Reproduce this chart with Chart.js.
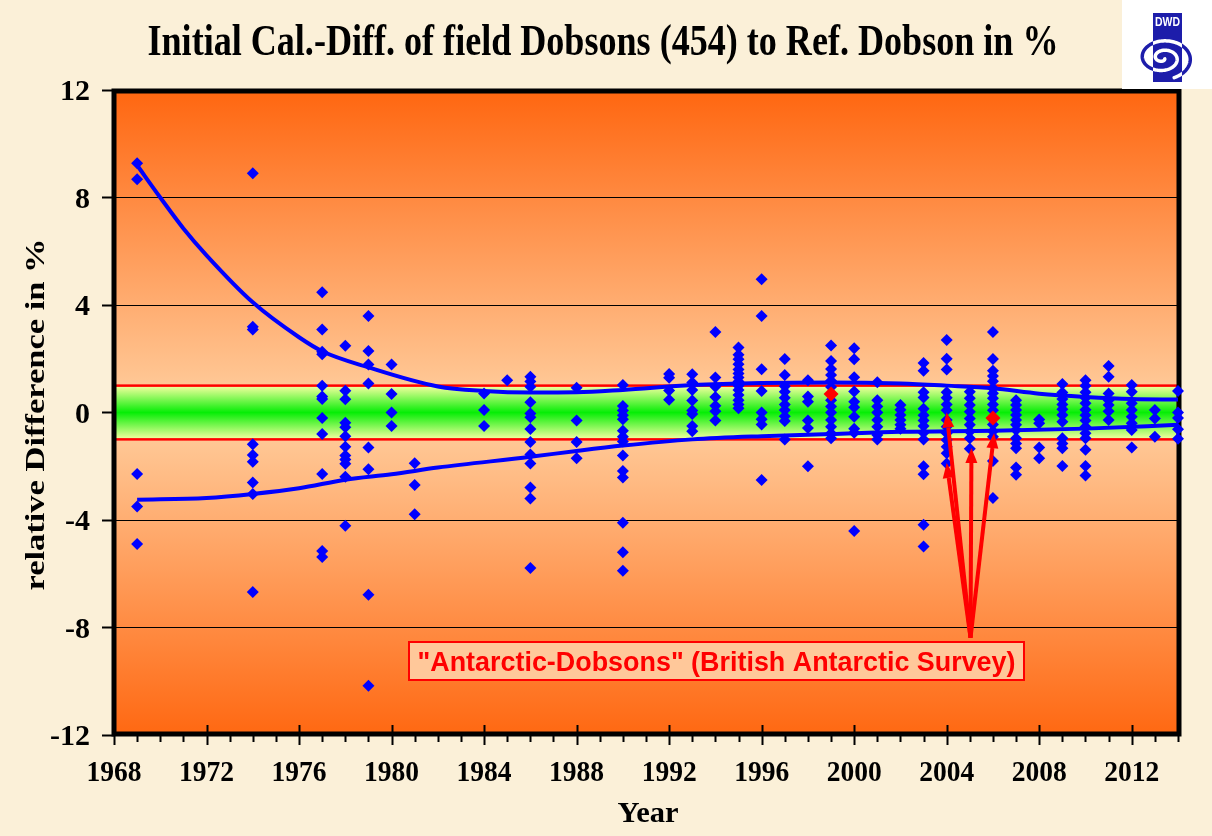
<!DOCTYPE html>
<html>
<head>
<meta charset="utf-8">
<script src="https://cdn.jsdelivr.net/npm/chart.js@4/dist/chart.umd.min.js"></script>
<style>
  html, body { margin: 0; padding: 0; background: #fbf0d8; }
  canvas { display: block; }
</style>
</head>
<body>
<canvas id="chart" width="1212" height="836"></canvas>
<script>
// ---- Initial calibration differences, field Dobsons vs. reference Dobson (%) ----
const fieldYears = [1969, 1974, 1977, 1978, 1979, 1980, 1981, 1984, 1985, 1986, 1988, 1990,
  1992, 1993, 1994, 1995, 1996, 1997, 1998, 1999, 2000, 2001, 2002, 2003, 2004, 2005,
  2006, 2007, 2008, 2009, 2010, 2011, 2012, 2013, 2014];
const fieldDiffs = [
  [9.27, 8.68, -2.29, -3.5, -4.89],
  [8.9, 3.19, 3.09, -1.18, -1.58, -1.83, -2.6, -3.03, -6.68],
  [4.47, 3.09, 2.26, 2.17, 1.0, 0.6, 0.5, -0.2, -0.8, -2.29, -5.15, -5.38],
  [2.48, 0.81, 0.49, -0.38, -0.55, -0.88, -1.27, -1.6, -1.75, -1.91, -2.39, -4.21],
  [3.59, 2.29, 1.79, 1.08, -1.3, -2.11, -6.78, -10.17],
  [1.79, 0.69, 0.0, -0.5],
  [-1.89, -2.7, -3.79],
  [0.71, 0.09, -0.5],
  [1.2],
  [1.33, 1.15, 0.96, 0.38, -0.04, -0.18, -0.61, -1.1, -1.56, -1.9, -2.79, -3.2, -5.79],
  [0.92, -0.3, -1.1, -1.7],
  [1.02, 0.24, 0.07, -0.1, -0.25, -0.68, -0.9, -1.08, -1.6, -2.18, -2.42, -4.1, -5.2, -5.89],
  [1.43, 1.29, 0.82, 0.47],
  [1.42, 1.12, 0.84, 0.45, 0.07, -0.06, -0.5, -0.7],
  [3.0, 1.3, 0.96, 0.58, 0.25, 0.05, -0.3],
  [2.42, 2.15, 1.98, 1.8, 1.6, 1.45, 1.3, 1.15, 1.0, 0.84, 0.65, 0.46, 0.3, 0.16],
  [4.96, 3.59, 1.61, 0.8, 0.0, -0.25, -0.45, -2.51],
  [1.99, 1.4, 0.98, 0.77, 0.55, 0.3, 0.09, -0.14, -0.32, -1.0],
  [1.2, 0.6, 0.4, -0.3, -0.58, -2.0],
  [2.49, 1.92, 1.62, 1.4, 1.18, 0.95, 0.46, 0.22, 0.0, -0.28, -0.53, -0.77, -0.96],
  [2.39, 1.98, 1.31, 0.78, 0.4, 0.2, -0.16, -0.6, -0.75, -4.41],
  [1.13, 0.46, 0.22, 0.0, -0.28, -0.53, -0.84, -1.0],
  [0.28, 0.1, -0.09, -0.28, -0.46, -0.6],
  [1.84, 1.55, 0.75, 0.56, 0.14, -0.1, -0.3, -0.5, -0.75, -1.0, -2.0, -2.3, -4.18, -4.99],
  [2.7, 2.0, 1.6, 0.75, 0.55, 0.3, 0.08, -0.28, -0.53, -0.77, -1.02, -1.27, -1.52, -1.9],
  [0.77, 0.53, 0.28, 0.03, -0.22, -0.46, -0.71, -0.96, -1.35],
  [3.0, 1.99, 1.55, 1.36, 1.16, 0.9, 0.72, 0.53, 0.3, 0.08, -0.45, -0.7, -0.9, -1.8, -3.18],
  [0.46, 0.28, 0.09, -0.09, -0.28, -0.46, -0.65, -0.96, -1.15, -1.33, -2.05, -2.32],
  [-0.26, -0.4, -1.3, -1.7],
  [1.06, 0.74, 0.5, 0.3, 0.12, -0.09, -0.34, -0.96, -1.15, -1.33, -1.99],
  [1.2, 1.0, 0.75, 0.55, 0.34, 0.1, -0.1, -0.3, -0.53, -0.77, -0.96, -1.39, -1.99, -2.34],
  [1.73, 1.33, 0.71, 0.46, 0.28, 0.05, -0.28],
  [1.02, 0.77, 0.34, 0.09, -0.16, -0.4, -0.65, -1.3],
  [0.09, -0.22, -0.9],
  [0.8, 0.0, -0.2, -0.62, -0.98]
];

// British Antarctic Survey instruments (highlighted)
const basYears = [1999, 2006];
const basDiffs = [0.69, -0.2];

// Upper and lower envelope curves
const upperYears = [1969, 1970, 1971, 1972, 1974, 1976, 1977, 1979, 1982, 1984, 1986, 1988, 1990,
  1993, 1996, 1999, 2002, 2004, 2006, 2008, 2010, 2012, 2014];
const upperDiffs = [9.2, 8.0, 6.85, 5.85, 4.1, 2.8, 2.28, 1.68, 0.97, 0.8, 0.74, 0.75, 0.84,
  1.02, 1.1, 1.12, 1.08, 1.0, 0.9, 0.7, 0.58, 0.5, 0.48];
const lowerYears = [1969, 1972, 1974, 1976, 1978, 1980, 1982, 1986, 1988, 1990, 1993,
  1996, 1999, 2002, 2006, 2010, 2014];
const lowerDiffs = [-3.25, -3.18, -3.03, -2.82, -2.5, -2.3, -2.05, -1.65, -1.43, -1.23, -1.0,
  -0.88, -0.8, -0.72, -0.68, -0.6, -0.46];

// Tolerance band and axis ranges
const toleranceBand = [-1, 1];
const xRange = [1968, 2014];
const yRange = [-12, 12];
const yearStep = 4;
const diffStep = 4;

// Arrows pointing at the Antarctic instruments: common base and the four tips
const arrowBase = [2005.03, -8.38];
const arrowTipYears = [2004, 2004, 2005.07, 2006.05];
const arrowTipDiffs = [0, -1.88, -1.32, -0.77];

const titleText = 'Initial Cal.-Diff. of field Dobsons (454) to Ref. Dobson in %';
const yTitleText = 'relative Difference in %';
const xTitleText = 'Year';
const noteText = '"Antarctic-Dobsons" (British Antarctic Survey)';

// ---- build point lists ----
const fieldPoints = [];
fieldYears.forEach((yr, i) => fieldDiffs[i].forEach(v => fieldPoints.push({ x: yr, y: v })));
const basPoints = basYears.map((yr, i) => ({ x: yr, y: basDiffs[i] }));
const upperPoints = upperYears.map((yr, i) => ({ x: yr, y: upperDiffs[i] }));
const lowerPoints = lowerYears.map((yr, i) => ({ x: yr, y: lowerDiffs[i] }));

const SERIF = '"Liberation Serif", "Times New Roman", serif';
const SANS = '"Liberation Sans", Arial, sans-serif';
const BLUE = '#0000ff';
const RED = '#ff0000';

// draw text squeezed/stretched horizontally to a given width
function fitText(ctx, text, x, y, font, width, align) {
  ctx.save();
  ctx.font = font;
  const w = ctx.measureText(text).width;
  const sx = width ? width / w : 1;
  ctx.translate(x, y);
  ctx.scale(sx, 1);
  ctx.textAlign = align || 'center';
  ctx.fillText(text, 0, 0);
  ctx.restore();
}

const backgroundPlugin = {
  id: 'backgroundPlugin',
  beforeDraw(chart) {
    const { ctx, chartArea: a } = chart;
    ctx.save();
    ctx.fillStyle = '#fbf0d8';
    ctx.fillRect(0, 0, chart.width, chart.height);
    const g = ctx.createLinearGradient(0, a.top, 0, a.bottom);
    g.addColorStop(0, '#ff6610');
    g.addColorStop(0.46, '#ffc896');
    g.addColorStop(0.54, '#ffc896');
    g.addColorStop(1, '#ff6812');
    ctx.fillStyle = g;
    ctx.fillRect(a.left, a.top, a.right - a.left, a.bottom - a.top);
    ctx.restore();
  }
};

const bandPlugin = {
  id: 'bandPlugin',
  beforeDatasetsDraw(chart) {
    const { ctx, chartArea: a, scales: { x, y } } = chart;
    const yTop = y.getPixelForValue(toleranceBand[1]);
    const yBot = y.getPixelForValue(toleranceBand[0]);
    ctx.save();
    const g = ctx.createLinearGradient(0, yTop, 0, yBot);
    g.addColorStop(0, '#f8ffa2');
    g.addColorStop(0.5, '#06ee06');
    g.addColorStop(1, '#f8ffa2');
    ctx.fillStyle = g;
    ctx.fillRect(a.left, yTop, a.right - a.left, yBot - yTop);
    ctx.strokeStyle = RED;
    ctx.lineWidth = 2.5;
    ctx.strokeRect(a.left, yTop, a.right - a.left, yBot - yTop);

    // plot frame
    ctx.strokeStyle = '#000';
    ctx.lineWidth = 5;
    ctx.strokeRect(a.left, a.top + 1, a.right - a.left + 1, a.bottom - a.top - 2);

    // year ticks: minor every year, major every 4 years crossing the axis
    ctx.lineWidth = 2;
    ctx.beginPath();
    for (let yr = xRange[0]; yr <= xRange[1]; yr++) {
      const px = Math.round(x.getPixelForValue(yr)) + 0.5;
      if ((yr - xRange[0]) % yearStep === 0) {
        ctx.moveTo(px, a.bottom - 10);
        ctx.lineTo(px, a.bottom + 10);
      } else {
        ctx.moveTo(px, a.bottom);
        ctx.lineTo(px, a.bottom + 7);
      }
    }
    ctx.stroke();
    ctx.restore();
  }
};

const arrowPlugin = {
  id: 'arrowPlugin',
  afterDatasetsDraw(chart) {
    const { ctx, scales: { x, y } } = chart;
    const bx = x.getPixelForValue(arrowBase[0]);
    const by = y.getPixelForValue(arrowBase[1]);
    ctx.save();
    ctx.strokeStyle = RED;
    ctx.fillStyle = RED;
    ctx.lineWidth = 4;
    ctx.lineCap = 'butt';
    arrowTipYears.forEach((yr, i) => {
      const tx = x.getPixelForValue(yr);
      const ty = y.getPixelForValue(arrowTipDiffs[i]);
      const ang = Math.atan2(ty - by, tx - bx);
      const headLen = 15, headHalf = 6;
      const hx = tx - Math.cos(ang) * headLen;
      const hy = ty - Math.sin(ang) * headLen;
      ctx.beginPath();
      ctx.moveTo(bx, by);
      ctx.lineTo(hx, hy);
      ctx.stroke();
      ctx.beginPath();
      ctx.moveTo(tx, ty);
      ctx.lineTo(hx + Math.sin(ang) * headHalf, hy - Math.cos(ang) * headHalf);
      ctx.lineTo(hx - Math.sin(ang) * headHalf, hy + Math.cos(ang) * headHalf);
      ctx.closePath();
      ctx.fill();
    });

    // label box under the arrows
    const box = { x: 409, y: 642, w: 615, h: 38 };
    ctx.fillStyle = '#ffc89a';
    ctx.fillRect(box.x, box.y, box.w, box.h);
    ctx.strokeStyle = RED;
    ctx.lineWidth = 2;
    ctx.strokeRect(box.x, box.y, box.w, box.h);
    ctx.fillStyle = RED;
    fitText(ctx, noteText, box.x + box.w / 2, box.y + 29, 'bold 28px ' + SANS, 598);
    ctx.restore();
  }
};

function drawLogo(ctx) {
  ctx.save();
  ctx.fillStyle = '#ffffff';
  ctx.fillRect(1122, 0, 90, 89);
  const bx = 1153, by = 13, bw = 29, bh = 69;
  const logoBlue = '#1d1daa';
  ctx.fillStyle = logoBlue;
  ctx.fillRect(bx, by, bw, bh);
  ctx.fillStyle = '#ffffff';
  fitText(ctx, 'DWD', bx + bw / 2, by + 13, 'bold 12px ' + SANS, 25);
  // swirl
  const cx = 1163, cy = 58;
  const path = new Path2D();
  const turns = 4.2 * Math.PI;
  for (let t = 0; t <= turns; t += 0.05) {
    const r = 1.5 + 1.5 * t;
    const px = cx + 1.4 * r * Math.cos(t + 0.6);
    const py = cy + r * Math.sin(t + 0.6);
    if (t === 0) path.moveTo(px, py); else path.lineTo(px, py);
  }
  ctx.lineWidth = 3.5;
  ctx.lineCap = 'round';
  ctx.strokeStyle = logoBlue;
  ctx.stroke(path);
  ctx.save();
  ctx.beginPath();
  ctx.rect(bx, by + 20, bw, bh - 20);
  ctx.clip();
  ctx.strokeStyle = '#ffffff';
  ctx.stroke(path);
  ctx.restore();
  ctx.restore();
}

const textPlugin = {
  id: 'textPlugin',
  afterDraw(chart) {
    const { ctx, chartArea: a, scales: { x, y } } = chart;
    ctx.save();
    ctx.fillStyle = '#000';
    ctx.textBaseline = 'alphabetic';

    // title
    fitText(ctx, titleText, 603, 55, 'bold 44px ' + SERIF, 911);

    // y tick labels
    ctx.font = 'bold 30px ' + SERIF;
    ctx.textAlign = 'right';
    y.ticks.forEach(t => {
      ctx.fillText(String(t.value), 90, y.getPixelForValue(t.value) + 10);
    });

    // x tick labels
    ctx.font = 'bold 30px ' + SERIF;
    const xs = 55 / ctx.measureText('1968').width;
    for (let yr = xRange[0]; yr < xRange[1]; yr += yearStep) {
      fitText(ctx, String(yr), x.getPixelForValue(yr), 781, 'bold 30px ' + SERIF,
        ctx.measureText(String(yr)).width * xs);
    }

    // axis titles
    fitText(ctx, xTitleText, 648, 822, 'bold 29px ' + SERIF, 61);
    ctx.save();
    ctx.translate(44, (a.top + a.bottom) / 2 + 2);
    ctx.rotate(-Math.PI / 2);
    fitText(ctx, yTitleText, 0, 0, 'bold 28px ' + SERIF, 352);
    ctx.restore();

    drawLogo(ctx);
    ctx.restore();
  }
};

new Chart(document.getElementById('chart').getContext('2d'), {
  type: 'scatter',
  data: {
    datasets: [
      {
        label: 'British Antarctic Survey',
        data: basPoints,
        pointStyle: 'rectRot',
        pointRadius: 7.5,
        backgroundColor: RED,
        borderColor: RED,
        borderWidth: 0,
        clip: false,
        order: 0
      },
      {
        label: 'Field Dobsons',
        data: fieldPoints,
        pointStyle: 'rectRot',
        pointRadius: 6,
        backgroundColor: BLUE,
        borderColor: BLUE,
        borderWidth: 0,
        clip: false,
        order: 1
      },
      {
        type: 'line',
        label: 'Upper envelope',
        data: upperPoints,
        borderColor: BLUE,
        borderWidth: 4,
        pointRadius: 0,
        fill: false,
        cubicInterpolationMode: 'monotone',
        order: 2
      },
      {
        type: 'line',
        label: 'Lower envelope',
        data: lowerPoints,
        borderColor: BLUE,
        borderWidth: 4,
        pointRadius: 0,
        fill: false,
        cubicInterpolationMode: 'monotone',
        order: 2
      }
    ]
  },
  options: {
    responsive: false,
    animation: false,
    devicePixelRatio: 1,
    layout: { padding: { left: 0, top: 90, right: 34, bottom: 0 } },
    plugins: {
      legend: { display: false },
      tooltip: { enabled: false },
      title: { display: false }
    },
    scales: {
      x: {
        type: 'linear',
        min: xRange[0],
        max: xRange[1],
        grid: { display: false },
        border: { display: false },
        ticks: { display: false, stepSize: yearStep },
        afterFit(scale) { scale.height = 101; }
      },
      y: {
        min: yRange[0],
        max: yRange[1],
        grid: { color: '#000', lineWidth: 1, tickLength: 12, tickColor: '#000', tickWidth: 2 },
        border: { display: false },
        ticks: { display: false, stepSize: diffStep },
        afterFit(scale) { scale.width = 114; }
      }
    }
  },
  plugins: [backgroundPlugin, bandPlugin, arrowPlugin, textPlugin]
});
</script>
</body>
</html>
